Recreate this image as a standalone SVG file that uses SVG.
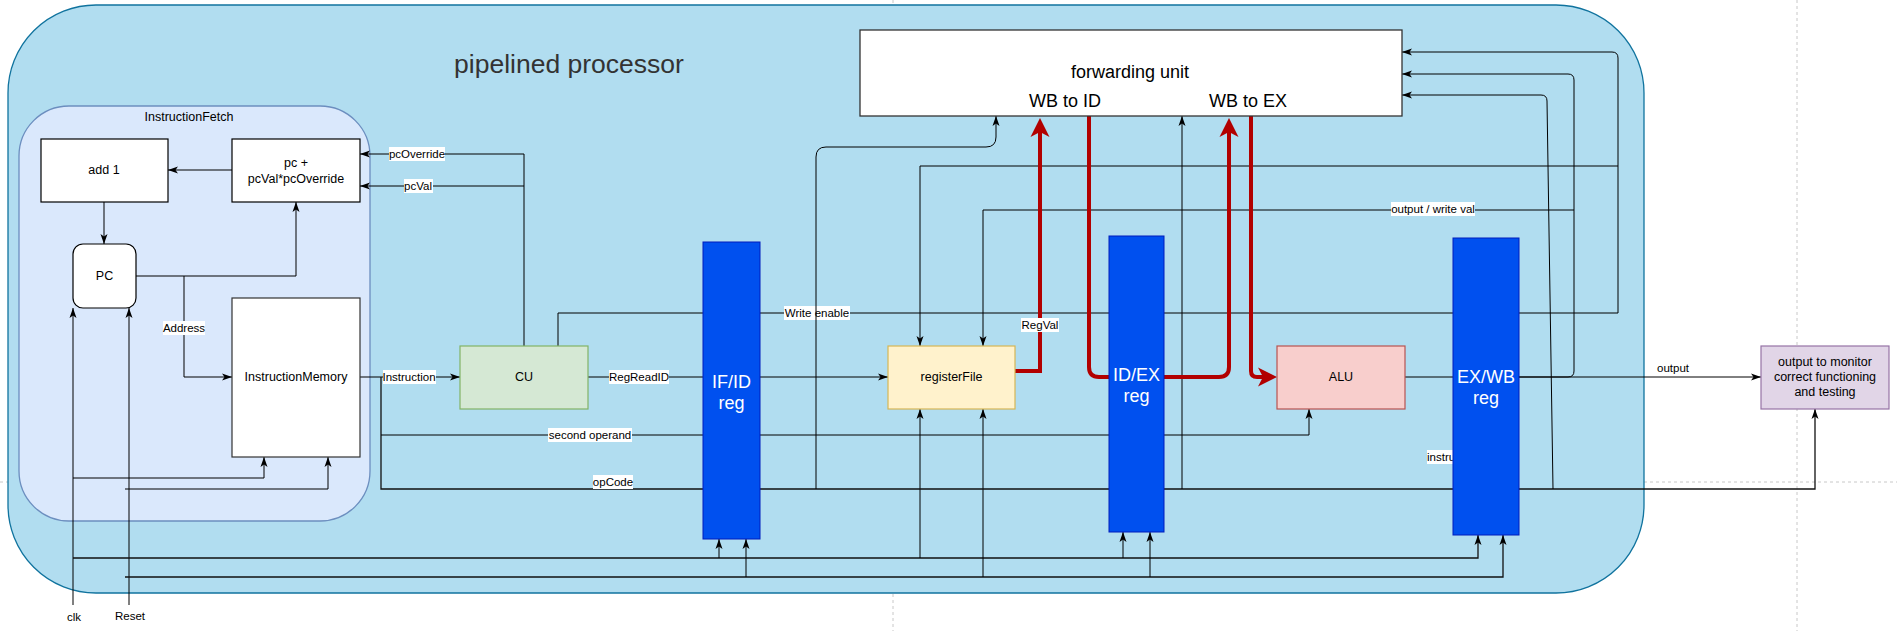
<svg xmlns="http://www.w3.org/2000/svg" width="1897" height="631" viewBox="0 0 1897 631">
<defs>
<style>
text{font-family:"Liberation Sans",Arial,Helvetica,sans-serif;fill:#000}
.node{font-size:12.5px}
.lbl{font-size:11.5px}
.reg{font-size:18px;fill:#fff}
.big{font-size:18px}
.w{stroke:#000;stroke-width:1;fill:none}
.bus{stroke:#111;stroke-width:1.3;fill:none}
.red{stroke:#b20000;stroke-width:4;fill:none}
.lb{fill:#fff}
.box{fill:#fff;stroke:#333;stroke-width:1.3}
.regbox{fill:#0050ef;stroke:#001dbc;stroke-width:1}
.page{stroke:#c8c8c8;stroke-width:1;stroke-dasharray:3 3}
</style>
<marker id="a" viewBox="0 -5 10 10" refX="10" refY="0" markerWidth="10" markerHeight="10" markerUnits="userSpaceOnUse" orient="auto">
<path d="M0,-3.5 L10,0 L0,3.5 L2.5,0 z" fill="#000"/>
</marker>
<marker id="r" viewBox="0 -10 20 20" refX="5" refY="0" markerWidth="20" markerHeight="20" markerUnits="userSpaceOnUse" orient="auto">
<path d="M0,-9.5 L19,0 L0,9.5 L5,0 z" fill="#b20000"/>
</marker>
</defs>

<g id="page-breaks">
<line class="page" x1="0" y1="482" x2="1897" y2="482"/>
<line class="page" x1="893" y1="0" x2="893" y2="631"/>
<line class="page" x1="1797" y1="0" x2="1797" y2="631"/>
</g>

<g id="pipelined-processor">
<rect x="8" y="5" width="1636" height="588" rx="88" fill="#b1ddf0" stroke="#10739e" stroke-width="1.3"/>
<text x="569" y="64" font-size="26.5" fill="#333" text-anchor="middle" dominant-baseline="central" style="fill:#333">pipelined processor</text>
</g>

<g id="instruction-fetch">
<rect x="19" y="106" width="351" height="415" rx="50" fill="#dae8fc" stroke="#6c8ebf" stroke-width="1.3"/>
<text class="node" x="189" y="117" text-anchor="middle" dominant-baseline="central">InstructionFetch</text>
</g>

<g id="connectors">
<path class="w" d="M232,170 H168" marker-end="url(#a)"/>
<path class="w" d="M104,202 V244" marker-end="url(#a)"/>
<path class="w" d="M136,276 H296 V202" marker-end="url(#a)"/>
<path class="w" d="M184,276 V377 H232" marker-end="url(#a)"/>
<rect class="lb" x="163" y="321" width="42" height="14"/>
<text class="lbl" x="184" y="328" text-anchor="middle" dominant-baseline="central">Address</text>

<path class="w" d="M73,605 V308" marker-end="url(#a)"/>
<path class="w" d="M129,605 V308" marker-end="url(#a)"/>
<path class="w" d="M73,478 H264 V457" marker-end="url(#a)"/>
<path class="w" d="M125,489 H328 V457" marker-end="url(#a)"/>

<path class="bus" d="M73,558 H1478 V535" marker-end="url(#a)"/>
<path class="w" d="M719,558 V539" marker-end="url(#a)"/>
<path class="w" d="M920,558 V409" marker-end="url(#a)"/>
<path class="w" d="M1123,558 V532" marker-end="url(#a)"/>
<path class="bus" d="M125,577 H1503 V535" marker-end="url(#a)"/>
<path class="w" d="M746,577 V539" marker-end="url(#a)"/>
<path class="w" d="M983,577 V409" marker-end="url(#a)"/>
<path class="w" d="M1150,577 V532" marker-end="url(#a)"/>

<path class="w" d="M360,377 H460" marker-end="url(#a)"/>
<rect class="lb" x="383" y="370" width="53" height="14"/>
<text class="lbl" x="409" y="377" text-anchor="middle" dominant-baseline="central">Instruction</text>

<path class="bus" d="M381,377 V489 H1815 V409" marker-end="url(#a)"/>
<rect class="lb" x="593" y="475" width="40" height="14"/>
<text class="lbl" x="613" y="482" text-anchor="middle" dominant-baseline="central">opCode</text>

<path class="w" d="M381,435 H1309 V409" marker-end="url(#a)"/>
<rect class="lb" x="548" y="428" width="84" height="14"/>
<text class="lbl" x="590" y="435" text-anchor="middle" dominant-baseline="central">second operand</text>

<path class="w" d="M524,346 V154 H360" marker-end="url(#a)"/>
<rect class="lb" x="389" y="147" width="56" height="14"/>
<text class="lbl" x="417" y="154" text-anchor="middle" dominant-baseline="central">pcOverride</text>
<path class="w" d="M524,186 H360" marker-end="url(#a)"/>
<rect class="lb" x="404" y="179" width="29" height="14"/>
<text class="lbl" x="418" y="186" text-anchor="middle" dominant-baseline="central">pcVal</text>

<path class="w" d="M558,346 V313 H1618 V58 Q1618,52 1612,52 H1402" marker-end="url(#a)"/>
<rect class="lb" x="784" y="306" width="66" height="14"/>
<text class="lbl" x="817" y="313" text-anchor="middle" dominant-baseline="central">Write enable</text>
<path class="w" d="M1618,166 H920 V346" marker-end="url(#a)"/>

<path class="w" d="M588,377 H888" marker-end="url(#a)"/>
<rect class="lb" x="609" y="370" width="60" height="14"/>
<text class="lbl" x="639" y="377" text-anchor="middle" dominant-baseline="central">RegReadID</text>

<path class="w" d="M816,489 V157 Q816,147 826,147 H986 Q996,147 996,137 V116" marker-end="url(#a)"/>
<path class="w" d="M1182,489 V116" marker-end="url(#a)"/>

<path class="w" d="M1405,377 H1453"/>
<path class="w" d="M1519,377 H1761" marker-end="url(#a)"/>
<text class="lbl" x="1673" y="368" text-anchor="middle" dominant-baseline="central">output</text>
<path class="w" d="M1519,377 H1568 Q1574,377 1574,371 V80 Q1574,74 1568,74 H1402" marker-end="url(#a)"/>
<path class="w" d="M1574,210 H983 V346" marker-end="url(#a)"/>
<rect class="lb" x="1391" y="202" width="84" height="14"/>
<text class="lbl" x="1433" y="209" text-anchor="middle" dominant-baseline="central">output / write val</text>
<path class="w" d="M1553,489 L1547,101 Q1547,95 1541,95 H1402" marker-end="url(#a)"/>

<rect class="lb" x="1427" y="450" width="52" height="14"/>
<text class="lbl" x="1427" y="457" dominant-baseline="central">instruction</text>

<path class="red" d="M1015,371 H1040 V132" marker-end="url(#r)"/>
<rect class="lb" x="1021" y="318" width="38" height="14"/>
<text class="lbl" x="1040" y="325" text-anchor="middle" dominant-baseline="central">RegVal</text>
<path class="red" d="M1089,116 V367 Q1089,377 1099,377 H1219 Q1229,377 1229,367 V132" marker-end="url(#r)"/>
<path class="red" d="M1251,116 V371 Q1251,377 1257,377 H1263" marker-end="url(#r)"/>

<text class="lbl" x="74" y="617" text-anchor="middle" dominant-baseline="central">clk</text>
<text class="lbl" x="130" y="616" text-anchor="middle" dominant-baseline="central">Reset</text>
</g>

<g id="add1">
<rect x="41" y="139" width="127" height="63" fill="#fff" stroke="#000" stroke-width="1.2"/>
<text class="node" x="104" y="170" text-anchor="middle" dominant-baseline="central">add 1</text>
</g>
<g id="pc-calc">
<rect x="232" y="139" width="128" height="63" fill="#fff" stroke="#000" stroke-width="1.2"/>
<text class="node" x="296" y="163" text-anchor="middle" dominant-baseline="central">pc +</text>
<text class="node" x="296" y="179" text-anchor="middle" dominant-baseline="central">pcVal*pcOverride</text>
</g>
<g id="pc">
<rect x="73" y="244" width="63" height="64" rx="10" fill="#fff" stroke="#000" stroke-width="1.2"/>
<text class="node" x="104.5" y="276" text-anchor="middle" dominant-baseline="central">PC</text>
</g>
<g id="instruction-memory">
<rect x="232" y="298" width="128" height="159" fill="#fff" stroke="#333" stroke-width="1.2"/>
<text class="node" x="296" y="377" text-anchor="middle" dominant-baseline="central">InstructionMemory</text>
</g>
<g id="cu">
<rect x="460" y="346" width="128" height="63" fill="#d5e8d4" stroke="#82b366" stroke-width="1.2"/>
<text class="node" x="524" y="377" text-anchor="middle" dominant-baseline="central">CU</text>
</g>
<g id="if-id-reg">
<rect class="regbox" x="703" y="242" width="57" height="297"/>
<text class="reg" x="731.5" y="388" text-anchor="middle">IF/ID</text>
<text class="reg" x="731.5" y="409" text-anchor="middle">reg</text>
</g>
<g id="register-file">
<rect x="888" y="346" width="127" height="63" fill="#fff2cc" stroke="#d6b656" stroke-width="1.2"/>
<text class="node" x="951.5" y="377" text-anchor="middle" dominant-baseline="central">registerFile</text>
</g>
<g id="id-ex-reg">
<rect class="regbox" x="1109" y="236" width="55" height="296"/>
<text class="reg" x="1136.5" y="381" text-anchor="middle">ID/EX</text>
<text class="reg" x="1136.5" y="402" text-anchor="middle">reg</text>
</g>
<g id="alu">
<rect x="1277" y="346" width="128" height="63" fill="#f8cecc" stroke="#b85450" stroke-width="1.2"/>
<text class="node" x="1341" y="377" text-anchor="middle" dominant-baseline="central">ALU</text>
</g>
<g id="ex-wb-reg">
<rect class="regbox" x="1453" y="238" width="66" height="297"/>
<text class="reg" x="1486" y="383" text-anchor="middle">EX/WB</text>
<text class="reg" x="1486" y="404" text-anchor="middle">reg</text>
</g>
<g id="forwarding-unit">
<rect class="box" x="860" y="30" width="542" height="86"/>
<text class="big" x="1130" y="72" text-anchor="middle" dominant-baseline="central">forwarding unit</text>
<text class="big" x="1065" y="101" text-anchor="middle" dominant-baseline="central">WB to ID</text>
<text class="big" x="1248" y="101" text-anchor="middle" dominant-baseline="central">WB to EX</text>
</g>
<g id="output-monitor">
<rect x="1761" y="346" width="128" height="63" fill="#e1d5e7" stroke="#9673a6" stroke-width="1.2"/>
<text class="node" x="1825" y="362" text-anchor="middle" dominant-baseline="central">output to monitor</text>
<text class="node" x="1825" y="377" text-anchor="middle" dominant-baseline="central">correct functioning</text>
<text class="node" x="1825" y="392" text-anchor="middle" dominant-baseline="central">and testing</text>
</g>
</svg>
